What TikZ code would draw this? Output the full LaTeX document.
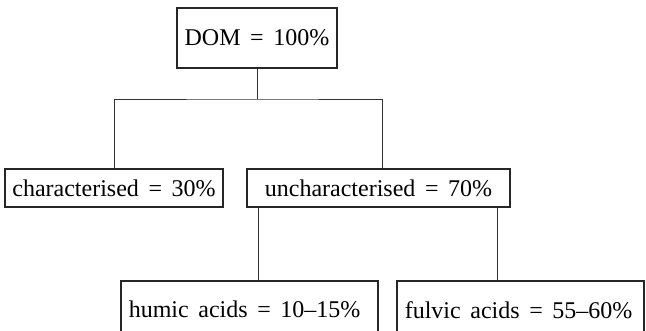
\documentclass[tikz,border=0pt]{standalone}
\usepackage{fontspec}
\setmainfont{Liberation Serif}
\usepackage{tikz}

\newcommand{\boxfont}{\fontsize{18}{21}\selectfont\spaceskip=0.4em plus 0.1em\relax}

\tikzset{
  box/.style={draw=black!85, line width=1.2pt, rectangle, inner sep=0pt,
    execute at begin node=\boxfont},
  leafbox/.style={box, align=left, inner xsep=6pt},
  link/.style={draw=black!80, line width=0.7pt}
}

\begin{document}
\begin{tikzpicture}[x=0.75pt,y=0.75pt,yscale=-1,xscale=1]
\clip (0,0) rectangle (646,331);

% Boxes
\node [box, minimum width=120pt, minimum height=45pt] (dom) at (257,38) {DOM = 100\%};
\node [box, minimum width=163.5pt, minimum height=28.5pt] (char) at (114,188) {characterised = 30\%};
\node [box, minimum width=197.25pt, minimum height=28.5pt] (unchar) at (378.5,188) {uncharacterised = 70\%};
\node [leafbox, anchor=north west, text width=180.75pt, minimum height=43.5pt] (humic) at (120,280) {humic acids = 10--15\%};
\node [leafbox, anchor=north west, text width=173.25pt, minimum height=43.5pt] (fulvic) at (396,280) {fulvic acids = 55--60\%};

% Connectors
\coordinate (split) at (257,99);
\draw [link] (dom.south) -- (split);
\draw [link] (char.north) |- (split) -| ([xshift=2.6pt]unchar.north);
\draw [link] ([xshift=9pt]unchar.south west) -- ([xshift=9pt]unchar.south west |- humic.north);
\draw [link] ([xshift=-9.75pt]unchar.south east) -- ([xshift=-9.75pt]unchar.south east |- fulvic.north);

\end{tikzpicture}
\end{document}
